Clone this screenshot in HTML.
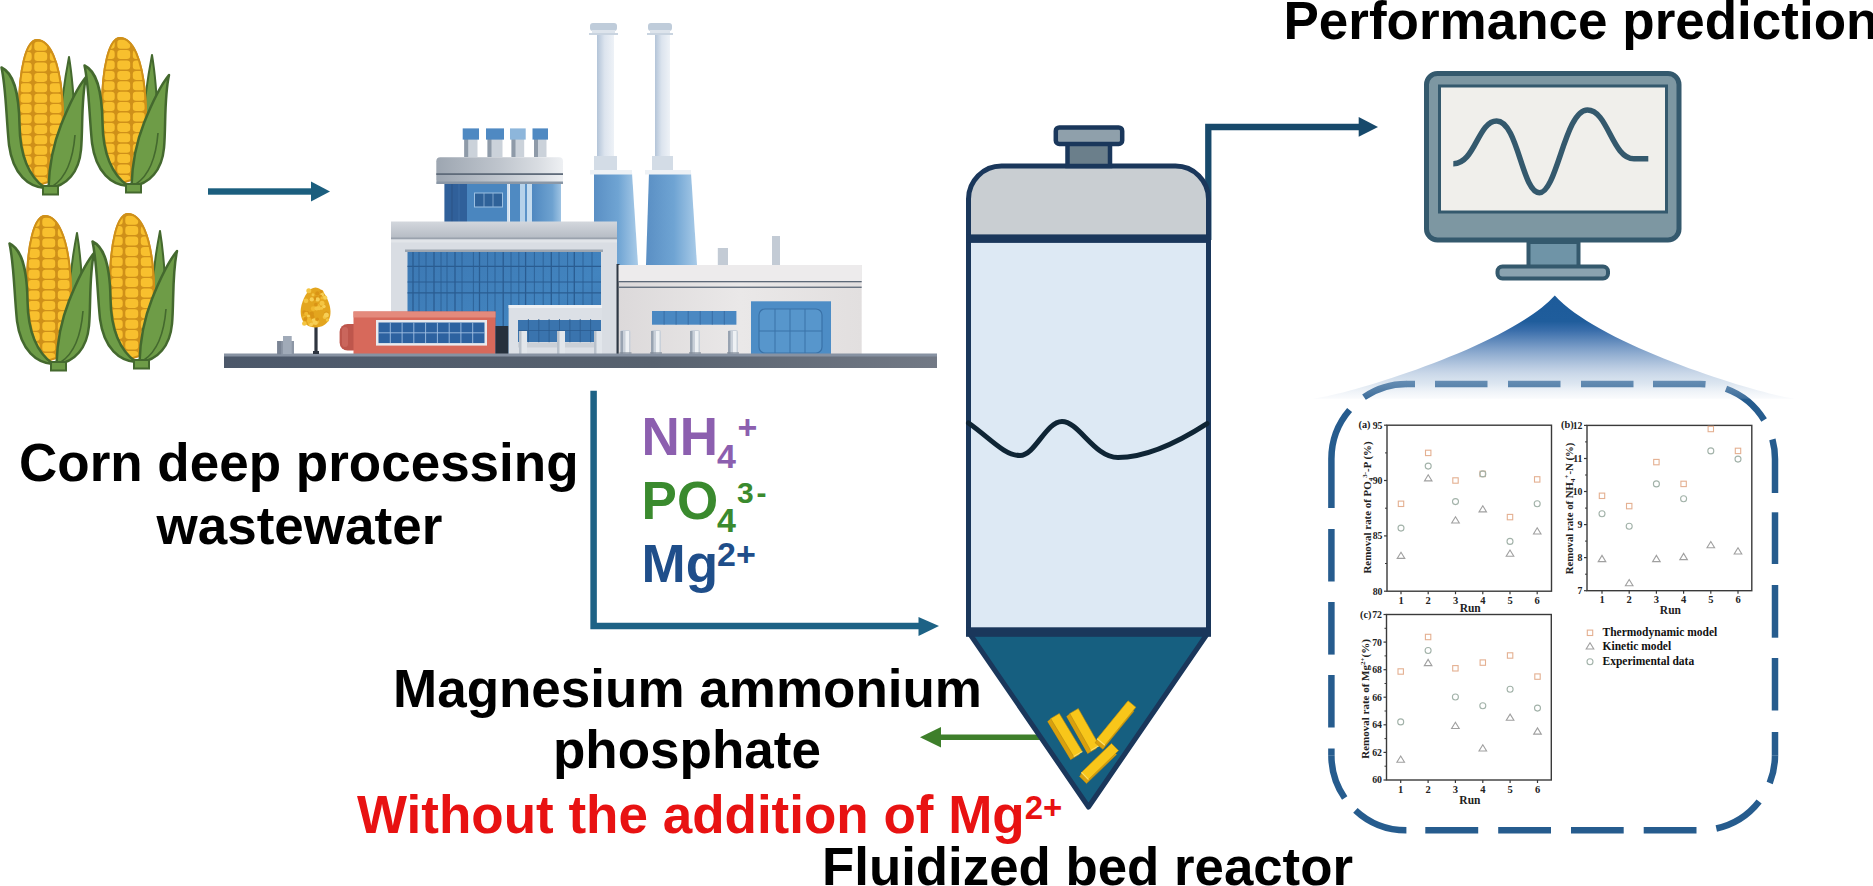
<!DOCTYPE html><html><head><meta charset="utf-8"><title>diagram</title><style>html,body{margin:0;padding:0;background:#fff;width:1873px;height:886px;overflow:hidden}svg{display:block}.s{font-family:"Liberation Sans",sans-serif;font-weight:bold}.t{font-family:"Liberation Serif",serif;font-weight:bold}</style></head><body>
<svg width="1873" height="886" viewBox="0 0 1873 886">
<defs><g id="corn"><path d="M32,17 C35,35 37,60 38,85 L22,95 C24,65 28,38 32,17 Z" fill="#6E9C47" stroke="#44692E" stroke-width="2" stroke-linejoin="round"/><path d="M0,0 C13,0 22,22 25,55 C28,95 27,125 17,140 L2,145 C-10,135 -17,110 -18,70 C-18,30 -11,0 0,0 Z" fill="#CF9019" stroke="#CF9019" stroke-width="2"/><clipPath id="cobclip"><path d="M0,0 C13,0 22,22 25,55 C28,95 27,125 17,140 L2,145 C-10,135 -17,110 -18,70 C-18,30 -11,0 0,0 Z"/></clipPath><g clip-path="url(#cobclip)"><rect x="-16.7" y="1.7" width="11.4" height="9" rx="3.3" fill="#F8C02E"/><rect x="-2.7" y="1.7" width="12.9" height="9" rx="3.3" fill="#F8C02E"/><rect x="12.8" y="1.7" width="11.9" height="9" rx="3.3" fill="#F8C02E"/><rect x="27.3" y="1.7" width="9.9" height="9" rx="3.3" fill="#F8C02E"/><rect x="-16.7" y="12.1" width="11.4" height="9" rx="3.3" fill="#F8C02E"/><rect x="-2.7" y="12.1" width="12.9" height="9" rx="3.3" fill="#F8C02E"/><rect x="12.8" y="12.1" width="11.9" height="9" rx="3.3" fill="#F8C02E"/><rect x="27.3" y="12.1" width="9.9" height="9" rx="3.3" fill="#F8C02E"/><rect x="-16.7" y="22.5" width="11.4" height="9" rx="3.3" fill="#F8C02E"/><rect x="-2.7" y="22.5" width="12.9" height="9" rx="3.3" fill="#F8C02E"/><rect x="12.8" y="22.5" width="11.9" height="9" rx="3.3" fill="#F8C02E"/><rect x="27.3" y="22.5" width="9.9" height="9" rx="3.3" fill="#F8C02E"/><rect x="-16.7" y="32.900000000000006" width="11.4" height="9" rx="3.3" fill="#F8C02E"/><rect x="-2.7" y="32.900000000000006" width="12.9" height="9" rx="3.3" fill="#F8C02E"/><rect x="12.8" y="32.900000000000006" width="11.9" height="9" rx="3.3" fill="#F8C02E"/><rect x="27.3" y="32.900000000000006" width="9.9" height="9" rx="3.3" fill="#F8C02E"/><rect x="-16.7" y="43.300000000000004" width="11.4" height="9" rx="3.3" fill="#F8C02E"/><rect x="-2.7" y="43.300000000000004" width="12.9" height="9" rx="3.3" fill="#F8C02E"/><rect x="12.8" y="43.300000000000004" width="11.9" height="9" rx="3.3" fill="#F8C02E"/><rect x="27.3" y="43.300000000000004" width="9.9" height="9" rx="3.3" fill="#F8C02E"/><rect x="-16.7" y="53.7" width="11.4" height="9" rx="3.3" fill="#F8C02E"/><rect x="-2.7" y="53.7" width="12.9" height="9" rx="3.3" fill="#F8C02E"/><rect x="12.8" y="53.7" width="11.9" height="9" rx="3.3" fill="#F8C02E"/><rect x="27.3" y="53.7" width="9.9" height="9" rx="3.3" fill="#F8C02E"/><rect x="-16.7" y="64.10000000000001" width="11.4" height="9" rx="3.3" fill="#F8C02E"/><rect x="-2.7" y="64.10000000000001" width="12.9" height="9" rx="3.3" fill="#F8C02E"/><rect x="12.8" y="64.10000000000001" width="11.9" height="9" rx="3.3" fill="#F8C02E"/><rect x="27.3" y="64.10000000000001" width="9.9" height="9" rx="3.3" fill="#F8C02E"/><rect x="-16.7" y="74.5" width="11.4" height="9" rx="3.3" fill="#F8C02E"/><rect x="-2.7" y="74.5" width="12.9" height="9" rx="3.3" fill="#F8C02E"/><rect x="12.8" y="74.5" width="11.9" height="9" rx="3.3" fill="#F8C02E"/><rect x="27.3" y="74.5" width="9.9" height="9" rx="3.3" fill="#F8C02E"/><rect x="-16.7" y="84.9" width="11.4" height="9" rx="3.3" fill="#F8C02E"/><rect x="-2.7" y="84.9" width="12.9" height="9" rx="3.3" fill="#F8C02E"/><rect x="12.8" y="84.9" width="11.9" height="9" rx="3.3" fill="#F8C02E"/><rect x="27.3" y="84.9" width="9.9" height="9" rx="3.3" fill="#F8C02E"/><rect x="-16.7" y="95.30000000000001" width="11.4" height="9" rx="3.3" fill="#F8C02E"/><rect x="-2.7" y="95.30000000000001" width="12.9" height="9" rx="3.3" fill="#F8C02E"/><rect x="12.8" y="95.30000000000001" width="11.9" height="9" rx="3.3" fill="#F8C02E"/><rect x="27.3" y="95.30000000000001" width="9.9" height="9" rx="3.3" fill="#F8C02E"/><rect x="-16.7" y="105.7" width="11.4" height="9" rx="3.3" fill="#F8C02E"/><rect x="-2.7" y="105.7" width="12.9" height="9" rx="3.3" fill="#F8C02E"/><rect x="12.8" y="105.7" width="11.9" height="9" rx="3.3" fill="#F8C02E"/><rect x="27.3" y="105.7" width="9.9" height="9" rx="3.3" fill="#F8C02E"/><rect x="-16.7" y="116.10000000000001" width="11.4" height="9" rx="3.3" fill="#F8C02E"/><rect x="-2.7" y="116.10000000000001" width="12.9" height="9" rx="3.3" fill="#F8C02E"/><rect x="12.8" y="116.10000000000001" width="11.9" height="9" rx="3.3" fill="#F8C02E"/><rect x="27.3" y="116.10000000000001" width="9.9" height="9" rx="3.3" fill="#F8C02E"/><rect x="-16.7" y="126.50000000000001" width="11.4" height="9" rx="3.3" fill="#F8C02E"/><rect x="-2.7" y="126.50000000000001" width="12.9" height="9" rx="3.3" fill="#F8C02E"/><rect x="12.8" y="126.50000000000001" width="11.9" height="9" rx="3.3" fill="#F8C02E"/><rect x="27.3" y="126.50000000000001" width="9.9" height="9" rx="3.3" fill="#F8C02E"/><rect x="-16.7" y="136.9" width="11.4" height="9" rx="3.3" fill="#F8C02E"/><rect x="-2.7" y="136.9" width="12.9" height="9" rx="3.3" fill="#F8C02E"/><rect x="12.8" y="136.9" width="11.9" height="9" rx="3.3" fill="#F8C02E"/><rect x="27.3" y="136.9" width="9.9" height="9" rx="3.3" fill="#F8C02E"/><rect x="-16.7" y="147.29999999999998" width="11.4" height="9" rx="3.3" fill="#F8C02E"/><rect x="-2.7" y="147.29999999999998" width="12.9" height="9" rx="3.3" fill="#F8C02E"/><rect x="12.8" y="147.29999999999998" width="11.9" height="9" rx="3.3" fill="#F8C02E"/><rect x="27.3" y="147.29999999999998" width="9.9" height="9" rx="3.3" fill="#F8C02E"/></g><path d="M0,0 C13,0 22,22 25,55 C28,95 27,125 17,140 L2,145 C-10,135 -17,110 -18,70 C-18,30 -11,0 0,0 Z" fill="none" stroke="#CF9019" stroke-width="2"/><path d="M-35.5,27.5 C-24,33 -18,50 -17.5,85 C-17,118 -6,138 8,148 C-8,147 -24,135 -28,105 C-31,75 -31,48 -35.5,27.5 Z" fill="#6E9C47" stroke="#44692E" stroke-width="2.5" stroke-linejoin="round"/><path d="M49,37 C44,60 46,88 44,110 C42,132 30,146 11.5,148.5 C12,130 16,105 24,85 C32,65 40,48 49,37 Z" fill="#6E9C47" stroke="#44692E" stroke-width="2.5" stroke-linejoin="round"/><path d="M38,95 C36,120 28,138 16,146" fill="none" stroke="#44692E" stroke-width="1.6"/><rect x="6" y="146" width="15" height="8.5" fill="#6E9C47" stroke="#44692E" stroke-width="2"/></g></defs>
<use href="#corn" x="37" y="40"/>
<use href="#corn" x="120" y="38"/>
<use href="#corn" x="45" y="216"/>
<use href="#corn" x="128" y="214"/>
<g><defs><linearGradient id="cone" x1="0" x2="1" y1="0" y2="0"><stop offset="0" stop-color="#5A8FC4"/><stop offset="0.55" stop-color="#6FA4D3"/><stop offset="1" stop-color="#A9CBE8"/></linearGradient><linearGradient id="pole" x1="0" x2="1" y1="0" y2="0"><stop offset="0" stop-color="#B3C4D8"/><stop offset="0.45" stop-color="#DCE4EE"/><stop offset="1" stop-color="#EEF2F7"/></linearGradient><linearGradient id="disc" x1="0" x2="1" y1="0" y2="0"><stop offset="0" stop-color="#9DA6B1"/><stop offset="0.5" stop-color="#BFC5CD"/><stop offset="0.8" stop-color="#D8DCE1"/><stop offset="1" stop-color="#EEF0F3"/></linearGradient><linearGradient id="cyl" x1="0" x2="1" y1="0" y2="0"><stop offset="0" stop-color="#4F88C0"/><stop offset="0.7" stop-color="#6EA2D0"/><stop offset="1" stop-color="#9EC3E3"/></linearGradient><linearGradient id="glass" x1="0" x2="1" y1="0" y2="1"><stop offset="0" stop-color="#3C78B3"/><stop offset="0.6" stop-color="#4284BF"/><stop offset="1" stop-color="#3A72AC"/></linearGradient><linearGradient id="roof" x1="0" x2="0" y1="0" y2="1"><stop offset="0" stop-color="#D3D7DD"/><stop offset="1" stop-color="#B4BAC3"/></linearGradient><linearGradient id="wallR" x1="0" x2="1" y1="0" y2="0"><stop offset="0" stop-color="#DCD9DA"/><stop offset="0.5" stop-color="#EAE8E8"/><stop offset="1" stop-color="#E2DFDF"/></linearGradient><linearGradient id="plat" x1="0" x2="1" y1="0" y2="0"><stop offset="0" stop-color="#4C586A"/><stop offset="0.6" stop-color="#58626F"/><stop offset="1" stop-color="#727985"/></linearGradient></defs><polygon points="594,173 632,173 638,265 594,265" fill="url(#cone)"/><rect x="597" y="28" width="17" height="132" fill="url(#pole)"/><rect x="594" y="156" width="23" height="15" fill="#D3DCE6"/><rect x="590" y="170" width="42" height="4.5" fill="#EDF1F5"/><rect x="590" y="23" width="27" height="8" rx="3" fill="#BFCCDA"/><rect x="592" y="30" width="23" height="3" fill="#DDE4EC"/><rect x="589" y="33" width="29" height="2" fill="#C9D4E0"/><polygon points="649,173 691,173 697,265 646,265" fill="url(#cone)"/><rect x="655" y="28" width="15" height="132" fill="url(#pole)"/><rect x="652" y="156" width="21" height="15" fill="#D3DCE6"/><rect x="645" y="170" width="46" height="4.5" fill="#EDF1F5"/><rect x="648" y="23" width="24" height="8" rx="3" fill="#BFCCDA"/><rect x="650" y="30" width="20" height="3" fill="#DDE4EC"/><rect x="647" y="33" width="26" height="2" fill="#C9D4E0"/><rect x="464.2" y="139" width="13.300000000000011" height="18" fill="#CBD2DA"/><rect x="464.2" y="139" width="4" height="18" fill="#8E9AA8"/><rect x="462.7" y="128.4" width="16.30000000000001" height="11.2" fill="#4F89C2"/><rect x="487.5" y="139" width="15" height="18" fill="#CBD2DA"/><rect x="487.5" y="139" width="4" height="18" fill="#8E9AA8"/><rect x="486" y="128.4" width="18" height="11.2" fill="#4F89C2"/><rect x="511.5" y="139" width="12.700000000000045" height="18" fill="#CBD2DA"/><rect x="511.5" y="139" width="4" height="18" fill="#8E9AA8"/><rect x="510" y="128.4" width="15.700000000000045" height="11.2" fill="#8DB6DB"/><rect x="534.0" y="139" width="12.5" height="18" fill="#CBD2DA"/><rect x="534.0" y="139" width="4" height="18" fill="#8E9AA8"/><rect x="532.5" y="128.4" width="15.5" height="11.2" fill="#4F89C2"/><rect x="532" y="183" width="29" height="39" fill="url(#cyl)"/><rect x="444.4" y="183" width="22.6" height="39" fill="#30609A"/><line x1="452" y1="183" x2="452" y2="222" stroke="#2A5285" stroke-width="1"/><line x1="459" y1="183" x2="459" y2="222" stroke="#3A6CA6" stroke-width="1"/><rect x="467" y="183" width="40" height="39" fill="#4A86BF"/><rect x="474.5" y="193" width="28" height="14" fill="#2F6299" stroke="#9CC0E2" stroke-width="1"/><line x1="484" y1="193" x2="484" y2="207" stroke="#8FB4D8" stroke-width="0.8"/><line x1="493" y1="193" x2="493" y2="207" stroke="#8FB4D8" stroke-width="0.8"/><rect x="507" y="183" width="2.5" height="39" fill="#CFE0F0"/><rect x="510" y="183" width="10" height="39" fill="#4F8AC2"/><rect x="520" y="183" width="5" height="39" fill="#B6D2EA"/><rect x="525" y="183" width="2" height="39" fill="#5B93C8"/><rect x="527" y="183" width="5" height="39" fill="#C5DCEF"/><rect x="436.3" y="157.3" width="126.7" height="26.4" rx="4" fill="url(#disc)"/><rect x="436.3" y="173.2" width="126.7" height="1.8" fill="#5F6B7A"/><rect x="436.3" y="181.5" width="126.7" height="2.5" fill="#8A97A6"/><rect x="391" y="238" width="226" height="117" fill="#D9DDE3"/><rect x="391" y="221.5" width="226" height="17.5" fill="url(#roof)"/><rect x="391" y="237.5" width="226" height="2" fill="#9AA2AD"/><rect x="391" y="239.5" width="226" height="3" fill="#E2E5E9"/><rect x="407.5" y="251.6" width="193.5" height="103" fill="url(#glass)"/><line x1="413.0" y1="251.6" x2="413.0" y2="355" stroke="#2A5C91" stroke-width="1.3"/><line x1="419.0" y1="251.6" x2="419.0" y2="355" stroke="#2A5C91" stroke-width="0.8"/><line x1="426.0" y1="251.6" x2="426.0" y2="355" stroke="#2A5C91" stroke-width="0.8"/><line x1="434.0" y1="251.6" x2="434.0" y2="355" stroke="#2A5C91" stroke-width="1.3"/><line x1="441.0" y1="251.6" x2="441.0" y2="355" stroke="#2A5C91" stroke-width="0.8"/><line x1="447.0" y1="251.6" x2="447.0" y2="355" stroke="#2A5C91" stroke-width="0.8"/><line x1="455.0" y1="251.6" x2="455.0" y2="355" stroke="#2A5C91" stroke-width="1.3"/><line x1="462.0" y1="251.6" x2="462.0" y2="355" stroke="#2A5C91" stroke-width="0.8"/><line x1="473.4" y1="251.6" x2="473.4" y2="355" stroke="#2A5C91" stroke-width="0.8"/><line x1="479.5" y1="251.6" x2="479.5" y2="355" stroke="#2A5C91" stroke-width="1.3"/><line x1="487.6" y1="251.6" x2="487.6" y2="355" stroke="#2A5C91" stroke-width="0.8"/><line x1="495.0" y1="251.6" x2="495.0" y2="355" stroke="#2A5C91" stroke-width="0.8"/><line x1="503.2" y1="251.6" x2="503.2" y2="355" stroke="#2A5C91" stroke-width="1.3"/><line x1="511.0" y1="251.6" x2="511.0" y2="355" stroke="#2A5C91" stroke-width="0.8"/><line x1="518.8" y1="251.6" x2="518.8" y2="355" stroke="#2A5C91" stroke-width="0.8"/><line x1="525.6" y1="251.6" x2="525.6" y2="355" stroke="#2A5C91" stroke-width="1.3"/><line x1="534.4" y1="251.6" x2="534.4" y2="355" stroke="#2A5C91" stroke-width="0.8"/><line x1="543.2" y1="251.6" x2="543.2" y2="355" stroke="#2A5C91" stroke-width="0.8"/><line x1="551.3" y1="251.6" x2="551.3" y2="355" stroke="#2A5C91" stroke-width="1.3"/><line x1="559.0" y1="251.6" x2="559.0" y2="355" stroke="#2A5C91" stroke-width="0.8"/><line x1="567.6" y1="251.6" x2="567.6" y2="355" stroke="#2A5C91" stroke-width="0.8"/><line x1="574.3" y1="251.6" x2="574.3" y2="355" stroke="#2A5C91" stroke-width="1.3"/><line x1="583.0" y1="251.6" x2="583.0" y2="355" stroke="#2A5C91" stroke-width="0.8"/><line x1="592.0" y1="251.6" x2="592.0" y2="355" stroke="#2A5C91" stroke-width="0.8"/><line x1="407.5" y1="266.4" x2="601" y2="266.4" stroke="#2A5C91" stroke-width="1.2"/><line x1="407.5" y1="282" x2="601" y2="282" stroke="#2A5C91" stroke-width="1.2"/><line x1="407.5" y1="292.8" x2="601" y2="292.8" stroke="#2A5C91" stroke-width="1.2"/><rect x="405" y="249.5" width="198" height="2.5" fill="#9CA5B0"/><rect x="339.6" y="324" width="22" height="26.5" rx="8" fill="#BE564C"/><rect x="342" y="327" width="6" height="20" rx="3" fill="#D27268" opacity="0.6"/><rect x="353.5" y="311.5" width="142" height="43" fill="#D7695B"/><rect x="353.5" y="311.5" width="142" height="6" fill="#E48A7C"/><rect x="376" y="320" width="111" height="25.6" fill="#E9EAEE"/><rect x="378.5" y="322.5" width="106" height="20.6" fill="#2D62A0"/><line x1="390.3" y1="322.5" x2="390.3" y2="343" stroke="#9FC0E2" stroke-width="0.9"/><line x1="402.1" y1="322.5" x2="402.1" y2="343" stroke="#9FC0E2" stroke-width="0.9"/><line x1="413.8" y1="322.5" x2="413.8" y2="343" stroke="#9FC0E2" stroke-width="0.9"/><line x1="425.6" y1="322.5" x2="425.6" y2="343" stroke="#9FC0E2" stroke-width="0.9"/><line x1="437.4" y1="322.5" x2="437.4" y2="343" stroke="#9FC0E2" stroke-width="0.9"/><line x1="449.2" y1="322.5" x2="449.2" y2="343" stroke="#9FC0E2" stroke-width="0.9"/><line x1="460.9" y1="322.5" x2="460.9" y2="343" stroke="#9FC0E2" stroke-width="0.9"/><line x1="472.7" y1="322.5" x2="472.7" y2="343" stroke="#9FC0E2" stroke-width="0.9"/><line x1="378.5" y1="332.8" x2="484.5" y2="332.8" stroke="#9FC0E2" stroke-width="0.9"/><rect x="495.5" y="326" width="13" height="29" fill="#26303C"/><rect x="508.6" y="305" width="93.4" height="50" fill="#DCE0E6"/><rect x="508.6" y="305" width="93.4" height="3" fill="#EEF0F3"/><rect x="518" y="320" width="83" height="22" fill="#3A74AE"/><line x1="528.4" y1="319" x2="528.4" y2="342.5" stroke="#2B5A8E" stroke-width="0.8"/><line x1="538.8" y1="319" x2="538.8" y2="342.5" stroke="#2B5A8E" stroke-width="0.8"/><line x1="549.1" y1="319" x2="549.1" y2="342.5" stroke="#2B5A8E" stroke-width="0.8"/><line x1="559.5" y1="319" x2="559.5" y2="342.5" stroke="#2B5A8E" stroke-width="0.8"/><line x1="569.9" y1="319" x2="569.9" y2="342.5" stroke="#2B5A8E" stroke-width="0.8"/><line x1="580.2" y1="319" x2="580.2" y2="342.5" stroke="#2B5A8E" stroke-width="0.8"/><line x1="590.6" y1="319" x2="590.6" y2="342.5" stroke="#2B5A8E" stroke-width="0.8"/><line x1="518" y1="330.5" x2="601" y2="330.5" stroke="#2B5A8E" stroke-width="0.8"/><rect x="518" y="342.5" width="83" height="5" fill="#CBD0D7"/><rect x="519" y="331" width="8" height="24" fill="#E2E6EB"/><rect x="519" y="331" width="2.5" height="24" fill="#B9C1CB"/><rect x="557" y="331" width="8" height="24" fill="#E2E6EB"/><rect x="557" y="331" width="2.5" height="24" fill="#B9C1CB"/><rect x="594" y="331" width="8" height="24" fill="#E2E6EB"/><rect x="594" y="331" width="2.5" height="24" fill="#B9C1CB"/><rect x="616.5" y="264" width="3" height="91" fill="#2E3844"/><rect x="618.7" y="265" width="243" height="90" fill="url(#wallR)"/><rect x="618.7" y="265" width="243" height="16" fill="#EDEBEC"/><rect x="618.7" y="281" width="243" height="1.3" fill="#5D6978"/><rect x="618.7" y="286.6" width="243" height="1.3" fill="#5D6978"/><rect x="652" y="311" width="84.4" height="13.7" fill="#4A88C2"/><line x1="664.1" y1="311" x2="664.1" y2="324.7" stroke="#33679E" stroke-width="0.8"/><line x1="676.1" y1="311" x2="676.1" y2="324.7" stroke="#33679E" stroke-width="0.8"/><line x1="688.2" y1="311" x2="688.2" y2="324.7" stroke="#33679E" stroke-width="0.8"/><line x1="700.2" y1="311" x2="700.2" y2="324.7" stroke="#33679E" stroke-width="0.8"/><line x1="712.3" y1="311" x2="712.3" y2="324.7" stroke="#33679E" stroke-width="0.8"/><line x1="724.3" y1="311" x2="724.3" y2="324.7" stroke="#33679E" stroke-width="0.8"/><rect x="751" y="301.3" width="80" height="53.7" fill="#4D8DC6"/><rect x="759" y="309" width="63" height="44" rx="6" fill="#5796CC" stroke="#3A72A8" stroke-width="1.2"/><line x1="775" y1="309" x2="775" y2="353" stroke="#3A72A8" stroke-width="1"/><line x1="790" y1="309" x2="790" y2="353" stroke="#3A72A8" stroke-width="1"/><line x1="805" y1="309" x2="805" y2="353" stroke="#3A72A8" stroke-width="1"/><line x1="759" y1="331" x2="822" y2="331" stroke="#3A72A8" stroke-width="1"/><rect x="620.5" y="330" width="10" height="25" rx="2" fill="#C9D0D9"/><rect x="625.5" y="331" width="3.5" height="23" fill="#EEF1F4"/><rect x="620.5" y="331" width="2.5" height="23" fill="#98A3B1"/><rect x="619.5" y="352" width="12" height="3" fill="#7F8894" opacity="0.6"/><rect x="651" y="330" width="10" height="25" rx="2" fill="#C9D0D9"/><rect x="656" y="331" width="3.5" height="23" fill="#EEF1F4"/><rect x="651" y="331" width="2.5" height="23" fill="#98A3B1"/><rect x="650" y="352" width="12" height="3" fill="#7F8894" opacity="0.6"/><rect x="690" y="330" width="10" height="25" rx="2" fill="#C9D0D9"/><rect x="695" y="331" width="3.5" height="23" fill="#EEF1F4"/><rect x="690" y="331" width="2.5" height="23" fill="#98A3B1"/><rect x="689" y="352" width="12" height="3" fill="#7F8894" opacity="0.6"/><rect x="728" y="330" width="10" height="25" rx="2" fill="#C9D0D9"/><rect x="733" y="331" width="3.5" height="23" fill="#EEF1F4"/><rect x="728" y="331" width="2.5" height="23" fill="#98A3B1"/><rect x="727" y="352" width="12" height="3" fill="#7F8894" opacity="0.6"/><rect x="717.8" y="248" width="10.2" height="17" fill="#C3CBD5"/><rect x="772" y="236" width="8" height="29" fill="#C3CBD5"/><polygon points="224,356 937,356 937,368 224,368" fill="url(#plat)"/><rect x="224" y="353.5" width="713" height="3" fill="#8792A2"/><rect x="314.4" y="322" width="3.2" height="32" fill="#2F3540"/><rect x="313" y="351" width="6" height="3" fill="#2F3540"/><path d="M315.5,287.5 C322,287.5 327,296 329.5,305 C332.5,316 329,327 315.5,327.5 C302,327 299,316 301.5,305 C304,296 309,287.5 315.5,287.5 Z" fill="#E3A51E"/><circle cx="316.4" cy="298.3" r="2.4" fill="#D99416"/><circle cx="317.5" cy="306.6" r="2.4" fill="#F4C542"/><circle cx="316.8" cy="306.4" r="2.5" fill="#F0B930"/><circle cx="323.9" cy="306.5" r="1.8" fill="#F7CF55"/><circle cx="308.9" cy="320.1" r="2.3" fill="#F0B930"/><circle cx="321.6" cy="308.3" r="1.5" fill="#F4C542"/><circle cx="304.3" cy="323.5" r="2.3" fill="#F4C542"/><circle cx="317.6" cy="299.4" r="2.2" fill="#F7CF55"/><circle cx="312.9" cy="322.2" r="2.5" fill="#F7CF55"/><circle cx="313.0" cy="294.7" r="1.5" fill="#F4C542"/><circle cx="325.1" cy="297.6" r="2.2" fill="#F7CF55"/><circle cx="313.6" cy="319.9" r="2.0" fill="#F7CF55"/><circle cx="313.2" cy="308.7" r="2.4" fill="#F0B930"/><circle cx="326.4" cy="313.9" r="2.5" fill="#D99416"/><circle cx="307.0" cy="313.5" r="2.5" fill="#D99416"/><circle cx="317.2" cy="321.7" r="2.1" fill="#F0B930"/><circle cx="309.8" cy="324.6" r="1.4" fill="#F4C542"/><circle cx="327.5" cy="319.9" r="1.7" fill="#F4C542"/><circle cx="322.1" cy="292.3" r="1.7" fill="#F4C542"/><circle cx="324.7" cy="316.9" r="2.0" fill="#F4C542"/><circle cx="312.5" cy="316.7" r="2.0" fill="#D99416"/><circle cx="310.1" cy="322.3" r="2.5" fill="#F0B930"/><circle cx="306.0" cy="300.8" r="2.4" fill="#F4C542"/><circle cx="310.4" cy="324.0" r="1.5" fill="#D99416"/><circle cx="321.3" cy="291.5" r="1.7" fill="#D99416"/><circle cx="322.2" cy="294.8" r="1.9" fill="#F7CF55"/><circle cx="319.1" cy="308.2" r="2.0" fill="#F4C542"/><circle cx="315.7" cy="322.9" r="2.1" fill="#F7CF55"/><circle cx="326.4" cy="315.0" r="2.5" fill="#F7CF55"/><circle cx="316.7" cy="308.2" r="2.2" fill="#F4C542"/><circle cx="311.0" cy="324.6" r="2.0" fill="#F7CF55"/><circle cx="304.3" cy="312.1" r="1.9" fill="#D99416"/><circle cx="311.8" cy="313.8" r="2.2" fill="#D99416"/><circle cx="308.8" cy="290.8" r="2.5" fill="#F4C542"/><circle cx="314.6" cy="298.8" r="1.5" fill="#D99416"/><circle cx="320.6" cy="296.5" r="1.7" fill="#D99416"/><circle cx="322.0" cy="303.2" r="2.5" fill="#F4C542"/><circle cx="306.2" cy="313.9" r="2.1" fill="#F0B930"/><circle cx="311.8" cy="299.4" r="2.1" fill="#F7CF55"/><circle cx="317.3" cy="293.4" r="2.1" fill="#D99416"/><circle cx="321.9" cy="297.9" r="1.4" fill="#F0B930"/><circle cx="308.5" cy="316.0" r="1.6" fill="#F7CF55"/><circle cx="304.1" cy="317.5" r="1.7" fill="#F0B930"/><circle cx="317.3" cy="319.3" r="1.7" fill="#D99416"/><circle cx="305.3" cy="319.0" r="2.0" fill="#D99416"/><circle cx="315.9" cy="304.7" r="1.9" fill="#D99416"/><rect x="277.2" y="341" width="16.8" height="13.5" fill="#8C96A5"/><rect x="283" y="336" width="8.7" height="18" fill="#A0AAB8"/><rect x="277.2" y="341" width="4" height="13.5" fill="#7A8494"/></g>
<rect x="208" y="188.3" width="105" height="6.4" fill="#1B5E7E"/>
<polygon points="311,181.6 330,191.5 311,201.4" fill="#1B5E7E"/>
<path d="M593.6,390.7 V626 H920" fill="none" stroke="#1D6285" stroke-width="6.5"/>
<polygon points="918.5,617 939,626 918.5,636" fill="#1D6285"/>
<path d="M1208.3,240 V127 H1360" fill="none" stroke="#17496B" stroke-width="6.3"/>
<polygon points="1358.7,116.9 1378,127 1358.7,136.7" fill="#17496B"/>
<rect x="938" y="734.5" width="105" height="5.5" fill="#3E7F2B"/>
<polygon points="920,737.3 941,727 941,747.5" fill="#3E7F2B"/>
<polygon points="968.5,632 1208.5,632 1088.5,808" fill="#165F80"/>
<path d="M968.5,632 L1088.5,807 L1208.5,632" fill="none" stroke="#1A375B" stroke-width="5" stroke-linejoin="round"/>
<rect x="968.5" y="238.7" width="240" height="393.5" fill="#DDE9F4"/>
<path d="M968.5,238.7 V199 A33,33 0 0 1 1001.5,166 H1175.5 A33,33 0 0 1 1208.5,199 V238.7 Z" fill="#C9CED2"/>
<path d="M968.5,632 V199 A33,33 0 0 1 1001.5,166 H1175.5 A33,33 0 0 1 1208.5,199 V632" fill="none" stroke="#1A375B" stroke-width="5"/>
<rect x="966" y="234.4" width="245" height="8.5" fill="#1A375B"/>
<rect x="966" y="627.3" width="245" height="9.5" fill="#1A375B"/>
<rect x="1067.5" y="143" width="42.5" height="23" fill="#6B7F8B" stroke="#1A375B" stroke-width="4.5"/>
<rect x="1055.8" y="127.4" width="66.4" height="16.5" rx="3.5" fill="#8FA0AB" stroke="#1A375B" stroke-width="4.5"/>
<path d="M968.5,423 C990,438 1004,455.5 1020,455.5 C1035,455.5 1046,421.5 1062,421.5 C1079,421.5 1094,457.5 1118,457.5 C1146,457.5 1180,441 1207,423.6" fill="none" stroke="#0F2535" stroke-width="5" stroke-linecap="round"/>
<polygon points="1047.7,721.6 1070.7,759.6 1079.3,754.4 1056.3,716.4" fill="#D9A00E" stroke="#B58A10" stroke-width="0.6"/>
<polygon points="1050.7,718.6 1073.7,756.6 1070.7,759.6 1047.7,721.6" fill="#D9A00E"/>
<polygon points="1050.7,718.6 1073.7,756.6 1082.3,751.4 1059.3,713.4" fill="#F8C61A" stroke="#B58A10" stroke-width="0.6"/>
<line x1="1073.7" y1="756.6" x2="1082.3" y2="751.4" stroke="#FFE16A" stroke-width="1.2"/>
<polygon points="1066.7,716.5 1087.7,753.5 1096.3,748.5 1075.3,711.5" fill="#D9A00E" stroke="#B58A10" stroke-width="0.6"/>
<polygon points="1069.7,713.5 1090.7,750.5 1087.7,753.5 1066.7,716.5" fill="#D9A00E"/>
<polygon points="1069.7,713.5 1090.7,750.5 1099.3,745.5 1078.3,708.5" fill="#F8C61A" stroke="#B58A10" stroke-width="0.6"/>
<line x1="1090.7" y1="750.5" x2="1099.3" y2="745.5" stroke="#FFE16A" stroke-width="1.2"/>
<polygon points="1126.1,704.8 1095.1,742.8 1102.9,749.2 1133.9,711.2" fill="#D9A00E" stroke="#B58A10" stroke-width="0.6"/>
<polygon points="1128.1,700.8 1097.1,738.8 1095.1,742.8 1126.1,704.8" fill="#D9A00E"/>
<polygon points="1128.1,700.8 1097.1,738.8 1104.9,745.2 1135.9,707.2" fill="#F8C61A" stroke="#B58A10" stroke-width="0.6"/>
<line x1="1097.1" y1="738.8" x2="1104.9" y2="745.2" stroke="#FFE16A" stroke-width="1.2"/>
<polygon points="1109.5,747.4 1079.5,776.4 1086.5,783.6 1116.5,754.6" fill="#D9A00E" stroke="#B58A10" stroke-width="0.6"/>
<polygon points="1111.5,743.4 1081.5,772.4 1079.5,776.4 1109.5,747.4" fill="#D9A00E"/>
<polygon points="1111.5,743.4 1081.5,772.4 1088.5,779.6 1118.5,750.6" fill="#F8C61A" stroke="#B58A10" stroke-width="0.6"/>
<line x1="1081.5" y1="772.4" x2="1088.5" y2="779.6" stroke="#FFE16A" stroke-width="1.2"/>
<rect x="1426.5" y="73.5" width="252.5" height="166.5" rx="11" fill="#7D97A2" stroke="#34596D" stroke-width="5"/>
<rect x="1439.5" y="86" width="227" height="126" fill="#F0EFEB" stroke="#34596D" stroke-width="3"/>
<rect x="1528.5" y="242" width="50" height="25" fill="#6F94A7" stroke="#34596D" stroke-width="4"/>
<rect x="1497.5" y="266.5" width="110.5" height="12" rx="5" fill="#8AA3B0" stroke="#34596D" stroke-width="4"/>
<path d="M1453.3,163.7 C1475,164 1478,121 1496.6,121 C1518,121 1522,192.7 1539.4,192.7 C1557,192.7 1565,110 1587.4,110 C1608,110 1612,158.8 1634,158.8 L1648.3,158.8" fill="none" stroke="#34596D" stroke-width="5.5"/>
<defs><linearGradient id="spot" x1="0" y1="0" x2="0" y2="1" gradientUnits="objectBoundingBox"><stop offset="0" stop-color="#1D5B9A"/><stop offset="0.25" stop-color="#1F5D9C"/><stop offset="0.34" stop-color="#3A6EAB"/><stop offset="0.48" stop-color="#7196C3"/><stop offset="0.62" stop-color="#8BA9CE" stop-opacity="0.8"/><stop offset="0.75" stop-color="#A5BCD9" stop-opacity="0.6"/><stop offset="0.857" stop-color="#AEC5DD" stop-opacity="0.42"/><stop offset="1" stop-color="#D5DEEC" stop-opacity="0.12"/></linearGradient></defs>
<g fill="none" stroke-width="6.5"><path d="M1364.0,397.1 A75,75 0 0 1 1406.4,384.0" stroke="#265C8E"/><path d="M1406.0,384.0 L1415.0,384.0" stroke="#265C8E"/><path d="M1435.0,384.0 L1487.5,384.0" stroke="#265C8E"/><path d="M1508.0,384.0 L1560.5,384.0" stroke="#265C8E"/><path d="M1581.0,384.0 L1633.5,384.0" stroke="#265C8E"/><path d="M1653.0,384.0 L1700.0,384.0" stroke="#265C8E"/><path d="M1700.0,384.0 A75,75 0 0 1 1705.5,384.2" stroke="#265C8E"/><path d="M1726.0,388.7 A75,75 0 0 1 1764.1,420.0" stroke="#265C8E"/><path d="M1349.6,410.0 A75,75 0 0 0 1331.4,459.0" stroke="#265C8E"/><path d="M1331.4,459.0 L1331.4,508.0" stroke="#265C8E"/><path d="M1331.4,529.0 L1331.4,581.5" stroke="#265C8E"/><path d="M1331.4,602.0 L1331.4,654.6" stroke="#265C8E"/><path d="M1331.4,675.0 L1331.4,727.5" stroke="#265C8E"/><path d="M1331.4,748.5 L1331.4,755.3" stroke="#265C8E"/><path d="M1331.4,755.3 A75,75 0 0 0 1344.7,798.0" stroke="#265C8E"/><path d="M1355.4,810.3 A75,75 0 0 0 1406.4,830.3" stroke="#265C8E"/><path d="M1425.3,830.3 L1478.2,830.3" stroke="#265C8E"/><path d="M1498.2,830.3 L1551.0,830.3" stroke="#265C8E"/><path d="M1571.0,830.3 L1623.7,830.3" stroke="#265C8E"/><path d="M1643.7,830.3 L1696.5,830.3" stroke="#265C8E"/><path d="M1716.3,828.5 A75,75 0 0 0 1759.1,801.5" stroke="#265C8E"/><path d="M1772.4,439.4 A75,75 0 0 1 1775.0,459.0" stroke="#265C8E"/><path d="M1775.0,459.0 L1775.0,493.0" stroke="#265C8E"/><path d="M1775.0,512.3 L1775.0,564.0" stroke="#265C8E"/><path d="M1775.0,585.0 L1775.0,637.7" stroke="#265C8E"/><path d="M1775.0,658.0 L1775.0,710.5" stroke="#265C8E"/><path d="M1775.0,732.0 L1775.0,755.3" stroke="#265C8E"/><path d="M1775.0,755.3 A75,75 0 0 1 1769.7,783.0" stroke="#265C8E"/></g>
<path d="M1554.8,295.5 C1506.4,348.8 1332,399.3 1310.7,398.8 L1798,398.8 C1777.3,399.3 1603.2,348.8 1554.8,295.5 Z" fill="url(#spot)"/>
<g><rect x="1387" y="425.2" width="164.5" height="166.00000000000006" fill="none" stroke="#3A3A3A" stroke-width="1.4"/><line x1="1384" y1="591.2" x2="1387" y2="591.2" stroke="#3A3A3A" stroke-width="1.2"/><line x1="1385" y1="563.5" x2="1387" y2="563.5" stroke="#3A3A3A" stroke-width="1"/><text class="t" x="1382.5" y="594.6" font-size="9.8" fill="#222" text-anchor="end">80</text><line x1="1384" y1="535.9" x2="1387" y2="535.9" stroke="#3A3A3A" stroke-width="1.2"/><line x1="1385" y1="508.2" x2="1387" y2="508.2" stroke="#3A3A3A" stroke-width="1"/><text class="t" x="1382.5" y="539.3" font-size="9.8" fill="#222" text-anchor="end">85</text><line x1="1384" y1="480.5" x2="1387" y2="480.5" stroke="#3A3A3A" stroke-width="1.2"/><line x1="1385" y1="452.9" x2="1387" y2="452.9" stroke="#3A3A3A" stroke-width="1"/><text class="t" x="1382.5" y="483.9" font-size="9.8" fill="#222" text-anchor="end">90</text><line x1="1384" y1="425.2" x2="1387" y2="425.2" stroke="#3A3A3A" stroke-width="1.2"/><text class="t" x="1382.5" y="428.6" font-size="9.8" fill="#222" text-anchor="end">95</text><line x1="1401.0" y1="591.2" x2="1401.0" y2="594.2" stroke="#3A3A3A" stroke-width="1.2"/><text class="t" x="1401.0" y="603.7" font-size="10.5" fill="#222" text-anchor="middle">1</text><line x1="1428.2" y1="591.2" x2="1428.2" y2="594.2" stroke="#3A3A3A" stroke-width="1.2"/><text class="t" x="1428.2" y="603.7" font-size="10.5" fill="#222" text-anchor="middle">2</text><line x1="1455.5" y1="591.2" x2="1455.5" y2="594.2" stroke="#3A3A3A" stroke-width="1.2"/><text class="t" x="1455.5" y="603.7" font-size="10.5" fill="#222" text-anchor="middle">3</text><line x1="1482.8" y1="591.2" x2="1482.8" y2="594.2" stroke="#3A3A3A" stroke-width="1.2"/><text class="t" x="1482.8" y="603.7" font-size="10.5" fill="#222" text-anchor="middle">4</text><line x1="1510.0" y1="591.2" x2="1510.0" y2="594.2" stroke="#3A3A3A" stroke-width="1.2"/><text class="t" x="1510.0" y="603.7" font-size="10.5" fill="#222" text-anchor="middle">5</text><line x1="1537.2" y1="591.2" x2="1537.2" y2="594.2" stroke="#3A3A3A" stroke-width="1.2"/><text class="t" x="1537.2" y="603.7" font-size="10.5" fill="#222" text-anchor="middle">6</text><text class="t" x="1470.2" y="611.5" font-size="11.5" fill="#222" text-anchor="middle">Run</text><text class="t" x="1358.5" y="428.2" font-size="10.3" fill="#222">(a)</text><text class="t" font-size="10.9" fill="#222" text-anchor="middle" transform="translate(1370.5,507.5) rotate(-90)">Removal rate of PO<tspan font-size="7" dy="2">4</tspan><tspan font-size="7" dy="-6">3-</tspan><tspan dy="4">-P (%)</tspan></text><rect x="1398.3" y="501.1" width="5.4" height="5.4" fill="none" stroke="#E4B091" stroke-width="1.1"/><polygon points="1397.2,558.4 1404.8,558.4 1401.0,552.2" fill="none" stroke="#A0A0A0" stroke-width="1.1"/><circle cx="1401.0" cy="528.1" r="3" fill="none" stroke="#A2B2A9" stroke-width="1.1"/><rect x="1425.5" y="450.2" width="5.4" height="5.4" fill="none" stroke="#E4B091" stroke-width="1.1"/><polygon points="1424.5,480.9 1432.0,480.9 1428.2,474.7" fill="none" stroke="#A0A0A0" stroke-width="1.1"/><circle cx="1428.2" cy="466.1" r="3" fill="none" stroke="#A2B2A9" stroke-width="1.1"/><rect x="1452.8" y="477.8" width="5.4" height="5.4" fill="none" stroke="#E4B091" stroke-width="1.1"/><polygon points="1451.7,523.0 1459.3,523.0 1455.5,516.8" fill="none" stroke="#A0A0A0" stroke-width="1.1"/><circle cx="1455.5" cy="501.6" r="3" fill="none" stroke="#A2B2A9" stroke-width="1.1"/><rect x="1480.0" y="471.2" width="5.4" height="5.4" fill="none" stroke="#E4B091" stroke-width="1.1"/><polygon points="1479.0,511.9 1486.5,511.9 1482.8,505.7" fill="none" stroke="#A0A0A0" stroke-width="1.1"/><circle cx="1482.8" cy="473.9" r="3" fill="none" stroke="#A2B2A9" stroke-width="1.1"/><rect x="1507.3" y="514.4" width="5.4" height="5.4" fill="none" stroke="#E4B091" stroke-width="1.1"/><polygon points="1506.2,556.2 1513.8,556.2 1510.0,550.0" fill="none" stroke="#A0A0A0" stroke-width="1.1"/><circle cx="1510.0" cy="541.4" r="3" fill="none" stroke="#A2B2A9" stroke-width="1.1"/><rect x="1534.5" y="476.7" width="5.4" height="5.4" fill="none" stroke="#E4B091" stroke-width="1.1"/><polygon points="1533.5,534.0 1541.0,534.0 1537.2,527.8" fill="none" stroke="#A0A0A0" stroke-width="1.1"/><circle cx="1537.2" cy="503.8" r="3" fill="none" stroke="#A2B2A9" stroke-width="1.1"/></g>
<g><rect x="1587" y="425.4" width="164.79999999999995" height="165.30000000000007" fill="none" stroke="#3A3A3A" stroke-width="1.4"/><line x1="1584" y1="590.7" x2="1587" y2="590.7" stroke="#3A3A3A" stroke-width="1.2"/><line x1="1585" y1="574.2" x2="1587" y2="574.2" stroke="#3A3A3A" stroke-width="1"/><text class="t" x="1582.5" y="594.1" font-size="9.8" fill="#222" text-anchor="end">7</text><line x1="1584" y1="557.6" x2="1587" y2="557.6" stroke="#3A3A3A" stroke-width="1.2"/><line x1="1585" y1="541.1" x2="1587" y2="541.1" stroke="#3A3A3A" stroke-width="1"/><text class="t" x="1582.5" y="561.0" font-size="9.8" fill="#222" text-anchor="end">8</text><line x1="1584" y1="524.6" x2="1587" y2="524.6" stroke="#3A3A3A" stroke-width="1.2"/><line x1="1585" y1="508.1" x2="1587" y2="508.1" stroke="#3A3A3A" stroke-width="1"/><text class="t" x="1582.5" y="528.0" font-size="9.8" fill="#222" text-anchor="end">9</text><line x1="1584" y1="491.5" x2="1587" y2="491.5" stroke="#3A3A3A" stroke-width="1.2"/><line x1="1585" y1="475.0" x2="1587" y2="475.0" stroke="#3A3A3A" stroke-width="1"/><text class="t" x="1582.5" y="494.9" font-size="9.8" fill="#222" text-anchor="end">10</text><line x1="1584" y1="458.5" x2="1587" y2="458.5" stroke="#3A3A3A" stroke-width="1.2"/><line x1="1585" y1="441.9" x2="1587" y2="441.9" stroke="#3A3A3A" stroke-width="1"/><text class="t" x="1582.5" y="461.9" font-size="9.8" fill="#222" text-anchor="end">11</text><line x1="1584" y1="425.4" x2="1587" y2="425.4" stroke="#3A3A3A" stroke-width="1.2"/><text class="t" x="1582.5" y="428.8" font-size="9.8" fill="#222" text-anchor="end">12</text><line x1="1602.0" y1="590.7" x2="1602.0" y2="593.7" stroke="#3A3A3A" stroke-width="1.2"/><text class="t" x="1602.0" y="603.2" font-size="10.5" fill="#222" text-anchor="middle">1</text><line x1="1629.2" y1="590.7" x2="1629.2" y2="593.7" stroke="#3A3A3A" stroke-width="1.2"/><text class="t" x="1629.2" y="603.2" font-size="10.5" fill="#222" text-anchor="middle">2</text><line x1="1656.4" y1="590.7" x2="1656.4" y2="593.7" stroke="#3A3A3A" stroke-width="1.2"/><text class="t" x="1656.4" y="603.2" font-size="10.5" fill="#222" text-anchor="middle">3</text><line x1="1683.6" y1="590.7" x2="1683.6" y2="593.7" stroke="#3A3A3A" stroke-width="1.2"/><text class="t" x="1683.6" y="603.2" font-size="10.5" fill="#222" text-anchor="middle">4</text><line x1="1710.8" y1="590.7" x2="1710.8" y2="593.7" stroke="#3A3A3A" stroke-width="1.2"/><text class="t" x="1710.8" y="603.2" font-size="10.5" fill="#222" text-anchor="middle">5</text><line x1="1738.0" y1="590.7" x2="1738.0" y2="593.7" stroke="#3A3A3A" stroke-width="1.2"/><text class="t" x="1738.0" y="603.2" font-size="10.5" fill="#222" text-anchor="middle">6</text><text class="t" x="1670.4" y="613.7" font-size="11.5" fill="#222" text-anchor="middle">Run</text><text class="t" x="1561.0" y="428.4" font-size="10.3" fill="#222">(b)</text><text class="t" font-size="10.75" fill="#222" text-anchor="middle" transform="translate(1572.5,508.5) rotate(-90)">Removal rate of NH<tspan font-size="7" dy="2">4</tspan><tspan font-size="7" dy="-6">+</tspan><tspan dy="4">-N (%)</tspan></text><rect x="1599.3" y="493.1" width="5.4" height="5.4" fill="none" stroke="#E4B091" stroke-width="1.1"/><polygon points="1598.2,561.6 1605.8,561.6 1602.0,555.4" fill="none" stroke="#A0A0A0" stroke-width="1.1"/><circle cx="1602.0" cy="513.7" r="3" fill="none" stroke="#A2B2A9" stroke-width="1.1"/><rect x="1626.5" y="503.4" width="5.4" height="5.4" fill="none" stroke="#E4B091" stroke-width="1.1"/><polygon points="1625.4,585.7 1633.0,585.7 1629.2,579.5" fill="none" stroke="#A0A0A0" stroke-width="1.1"/><circle cx="1629.2" cy="526.2" r="3" fill="none" stroke="#A2B2A9" stroke-width="1.1"/><rect x="1653.7" y="459.4" width="5.4" height="5.4" fill="none" stroke="#E4B091" stroke-width="1.1"/><polygon points="1652.6,561.6 1660.2,561.6 1656.4,555.4" fill="none" stroke="#A0A0A0" stroke-width="1.1"/><circle cx="1656.4" cy="483.9" r="3" fill="none" stroke="#A2B2A9" stroke-width="1.1"/><rect x="1680.9" y="481.2" width="5.4" height="5.4" fill="none" stroke="#E4B091" stroke-width="1.1"/><polygon points="1679.8,559.6 1687.4,559.6 1683.6,553.4" fill="none" stroke="#A0A0A0" stroke-width="1.1"/><circle cx="1683.6" cy="498.8" r="3" fill="none" stroke="#A2B2A9" stroke-width="1.1"/><rect x="1708.1" y="426.3" width="5.4" height="5.4" fill="none" stroke="#E4B091" stroke-width="1.1"/><polygon points="1707.0,547.7 1714.6,547.7 1710.8,541.5" fill="none" stroke="#A0A0A0" stroke-width="1.1"/><circle cx="1710.8" cy="450.9" r="3" fill="none" stroke="#A2B2A9" stroke-width="1.1"/><rect x="1735.3" y="448.2" width="5.4" height="5.4" fill="none" stroke="#E4B091" stroke-width="1.1"/><polygon points="1734.2,554.0 1741.8,554.0 1738.0,547.8" fill="none" stroke="#A0A0A0" stroke-width="1.1"/><circle cx="1738.0" cy="459.1" r="3" fill="none" stroke="#A2B2A9" stroke-width="1.1"/></g>
<g><rect x="1386.5" y="614.5" width="164.79999999999995" height="165.5" fill="none" stroke="#3A3A3A" stroke-width="1.4"/><line x1="1383.5" y1="780.0" x2="1386.5" y2="780.0" stroke="#3A3A3A" stroke-width="1.2"/><line x1="1384.5" y1="766.2" x2="1386.5" y2="766.2" stroke="#3A3A3A" stroke-width="1"/><text class="t" x="1382.0" y="783.4" font-size="9.8" fill="#222" text-anchor="end">60</text><line x1="1383.5" y1="752.4" x2="1386.5" y2="752.4" stroke="#3A3A3A" stroke-width="1.2"/><line x1="1384.5" y1="738.6" x2="1386.5" y2="738.6" stroke="#3A3A3A" stroke-width="1"/><text class="t" x="1382.0" y="755.8" font-size="9.8" fill="#222" text-anchor="end">62</text><line x1="1383.5" y1="724.8" x2="1386.5" y2="724.8" stroke="#3A3A3A" stroke-width="1.2"/><line x1="1384.5" y1="711.0" x2="1386.5" y2="711.0" stroke="#3A3A3A" stroke-width="1"/><text class="t" x="1382.0" y="728.2" font-size="9.8" fill="#222" text-anchor="end">64</text><line x1="1383.5" y1="697.2" x2="1386.5" y2="697.2" stroke="#3A3A3A" stroke-width="1.2"/><line x1="1384.5" y1="683.5" x2="1386.5" y2="683.5" stroke="#3A3A3A" stroke-width="1"/><text class="t" x="1382.0" y="700.6" font-size="9.8" fill="#222" text-anchor="end">66</text><line x1="1383.5" y1="669.7" x2="1386.5" y2="669.7" stroke="#3A3A3A" stroke-width="1.2"/><line x1="1384.5" y1="655.9" x2="1386.5" y2="655.9" stroke="#3A3A3A" stroke-width="1"/><text class="t" x="1382.0" y="673.1" font-size="9.8" fill="#222" text-anchor="end">68</text><line x1="1383.5" y1="642.1" x2="1386.5" y2="642.1" stroke="#3A3A3A" stroke-width="1.2"/><line x1="1384.5" y1="628.3" x2="1386.5" y2="628.3" stroke="#3A3A3A" stroke-width="1"/><text class="t" x="1382.0" y="645.5" font-size="9.8" fill="#222" text-anchor="end">70</text><line x1="1383.5" y1="614.5" x2="1386.5" y2="614.5" stroke="#3A3A3A" stroke-width="1.2"/><text class="t" x="1382.0" y="617.9" font-size="9.8" fill="#222" text-anchor="end">72</text><line x1="1400.7" y1="780" x2="1400.7" y2="783" stroke="#3A3A3A" stroke-width="1.2"/><text class="t" x="1400.7" y="792.5" font-size="10.5" fill="#222" text-anchor="middle">1</text><line x1="1428.1" y1="780" x2="1428.1" y2="783" stroke="#3A3A3A" stroke-width="1.2"/><text class="t" x="1428.1" y="792.5" font-size="10.5" fill="#222" text-anchor="middle">2</text><line x1="1455.4" y1="780" x2="1455.4" y2="783" stroke="#3A3A3A" stroke-width="1.2"/><text class="t" x="1455.4" y="792.5" font-size="10.5" fill="#222" text-anchor="middle">3</text><line x1="1482.8" y1="780" x2="1482.8" y2="783" stroke="#3A3A3A" stroke-width="1.2"/><text class="t" x="1482.8" y="792.5" font-size="10.5" fill="#222" text-anchor="middle">4</text><line x1="1510.1" y1="780" x2="1510.1" y2="783" stroke="#3A3A3A" stroke-width="1.2"/><text class="t" x="1510.1" y="792.5" font-size="10.5" fill="#222" text-anchor="middle">5</text><line x1="1537.5" y1="780" x2="1537.5" y2="783" stroke="#3A3A3A" stroke-width="1.2"/><text class="t" x="1537.5" y="792.5" font-size="10.5" fill="#222" text-anchor="middle">6</text><text class="t" x="1469.9" y="804" font-size="11.5" fill="#222" text-anchor="middle">Run</text><text class="t" x="1360.0" y="617.5" font-size="10.3" fill="#222">(c)</text><text class="t" font-size="11" fill="#222" text-anchor="middle" transform="translate(1368.5,699) rotate(-90)">Removal rate of Mg<tspan font-size="7" dy="-4">2+</tspan><tspan dy="4">(%)</tspan></text><rect x="1398.0" y="668.8" width="5.4" height="5.4" fill="none" stroke="#E4B091" stroke-width="1.1"/><polygon points="1396.9,762.2 1404.5,762.2 1400.7,756.0" fill="none" stroke="#A0A0A0" stroke-width="1.1"/><circle cx="1400.7" cy="721.9" r="3" fill="none" stroke="#A2B2A9" stroke-width="1.1"/><rect x="1425.4" y="634.3" width="5.4" height="5.4" fill="none" stroke="#E4B091" stroke-width="1.1"/><polygon points="1424.3,665.6 1431.9,665.6 1428.1,659.4" fill="none" stroke="#A0A0A0" stroke-width="1.1"/><circle cx="1428.1" cy="650.5" r="3" fill="none" stroke="#A2B2A9" stroke-width="1.1"/><rect x="1452.7" y="665.6" width="5.4" height="5.4" fill="none" stroke="#E4B091" stroke-width="1.1"/><polygon points="1451.6,728.5 1459.2,728.5 1455.4,722.3" fill="none" stroke="#A0A0A0" stroke-width="1.1"/><circle cx="1455.4" cy="697.0" r="3" fill="none" stroke="#A2B2A9" stroke-width="1.1"/><rect x="1480.1" y="659.9" width="5.4" height="5.4" fill="none" stroke="#E4B091" stroke-width="1.1"/><polygon points="1479.0,751.0 1486.6,751.0 1482.8,744.8" fill="none" stroke="#A0A0A0" stroke-width="1.1"/><circle cx="1482.8" cy="705.8" r="3" fill="none" stroke="#A2B2A9" stroke-width="1.1"/><rect x="1507.4" y="652.8" width="5.4" height="5.4" fill="none" stroke="#E4B091" stroke-width="1.1"/><polygon points="1506.3,720.3 1513.9,720.3 1510.1,714.1" fill="none" stroke="#A0A0A0" stroke-width="1.1"/><circle cx="1510.1" cy="689.3" r="3" fill="none" stroke="#A2B2A9" stroke-width="1.1"/><rect x="1534.8" y="673.9" width="5.4" height="5.4" fill="none" stroke="#E4B091" stroke-width="1.1"/><polygon points="1533.7,734.1 1541.3,734.1 1537.5,727.9" fill="none" stroke="#A0A0A0" stroke-width="1.1"/><circle cx="1537.5" cy="708.1" r="3" fill="none" stroke="#A2B2A9" stroke-width="1.1"/></g>
<rect x="1587.3" y="630.1" width="5.4" height="5.4" fill="none" stroke="#E4B091" stroke-width="1.1"/><polygon points="1586.2,649.0 1593.8,649.0 1590.0,642.8" fill="none" stroke="#A0A0A0" stroke-width="1.1"/><circle cx="1590.0" cy="661.7" r="3" fill="none" stroke="#A2B2A9" stroke-width="1.1"/>
<text class="t" x="1602.5" y="635.6" font-size="11.5" fill="#111">Thermodynamic model</text>
<text class="t" x="1602.5" y="649.6" font-size="11.5" fill="#111">Kinetic model</text>
<text class="t" x="1602.5" y="664.5" font-size="11.5" fill="#111">Experimental data</text>
<text class="s" x="1283.5" y="39" font-size="53" fill="#000" text-anchor="start" >Performance prediction</text>
<text class="s" x="19" y="481" font-size="53" fill="#000" text-anchor="start" >Corn deep processing</text>
<text class="s" x="156.5" y="543.5" font-size="53" fill="#000" text-anchor="start" >wastewater</text>
<text class="s" x="393" y="707" font-size="53" fill="#000" text-anchor="start" >Magnesium ammonium</text>
<text class="s" x="553" y="768" font-size="53" fill="#000" text-anchor="start" >phosphate</text>
<text class="s" x="357" y="833" font-size="53" fill="#E81212">Without the addition of Mg<tspan font-size="33" dy="-14">2+</tspan></text>
<text class="s" x="822" y="885" font-size="52.8" fill="#000" text-anchor="start" >Fluidized bed reactor</text>
<text class="s" x="641.6" y="454.8" font-size="53" fill="#8C5FAF" text-anchor="start" >NH</text>
<text class="s" x="717" y="467.5" font-size="34" fill="#8C5FAF" text-anchor="start" >4</text>
<text class="s" x="737.5" y="439.4" font-size="34" fill="#8C5FAF" text-anchor="start" >+</text>
<text class="s" x="641.6" y="518.5" font-size="53" fill="#3A8A2E" text-anchor="start" >PO</text>
<text class="s" x="717" y="532" font-size="34" fill="#3A8A2E" text-anchor="start" >4</text>
<text class="s" x="737" y="502.7" font-size="30" fill="#3A8A2E" text-anchor="start" >3</text>
<text class="s" x="756.5" y="502.7" font-size="30" fill="#3A8A2E" text-anchor="start" >-</text>
<text class="s" x="641.6" y="581.7" font-size="53" fill="#1F4E8A" text-anchor="start" >Mg</text>
<text class="s" x="717" y="565.9" font-size="34" fill="#1F4E8A" text-anchor="start" >2+</text>
</svg></body></html>
